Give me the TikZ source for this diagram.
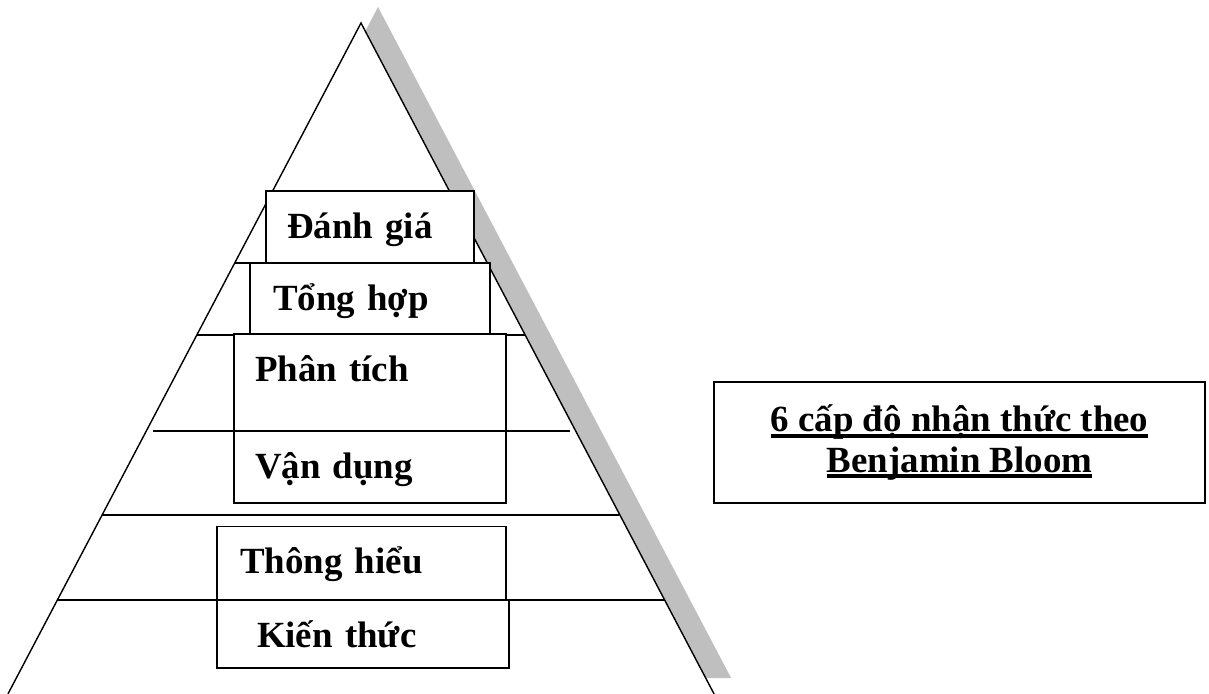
\documentclass[tikz,border=0pt]{standalone}
\usepackage{fontspec}
\setmainfont{Liberation Serif}
\newsavebox{\undlbox}
\newcommand{\undl}[1]{\sbox{\undlbox}{#1}\rlap{\rule[-3.2pt]{\wd\undlbox}{1.8pt}}\usebox{\undlbox}}
\tikzset{
  lvl/.style={draw, fill=white, line width=1pt, align=left, inner ysep=0pt,
    text height=0.94cm, font=\fontsize{21}{25}\selectfont\bfseries},
  edge/.style={line width=0.8pt},
}
\begin{document}
\begin{tikzpicture}[x=0.02cm, y=-0.02cm]
  \useasboundingbox (0,0) rectangle (1209,693);
  \coordinate (top) at (361,23);
  \coordinate (bl)  at (7.9,694);
  \coordinate (br)  at (714.1,694);

  % shadow, then the pyramid (no base line)
  \fill[black!25] ([shift={(17,-16)}]top) -- ([shift={(17,-16)}]bl) -- ([shift={(17,-16)}]br) -- cycle;
  \fill[white] (top) -- (bl) -- (br) -- cycle;
  \draw[edge] (bl) -- (top) -- (br);

  \draw[edge] (234.7,263) -- (487.3,263);
  \draw[edge] (197,335) -- (525,335);
  \draw[edge] (153,431) -- (570,431);
  \draw[edge] (102,515) -- (619,515);
  \draw[edge] (57.4,600) -- (664.6,600);

  \node[lvl, text width=3.32cm, inner xsep=0.42cm, text depth=0.5cm]  (l1) at (370,227)   {Đánh giá};
  \node[lvl, text width=3.88cm, inner xsep=0.46cm, text depth=0.48cm] (l2) at (370,298.5) {Tổng hợp};
  \node[lvl, text width=4.6cm,  inner xsep=0.42cm, text depth=1cm]    (l3) at (370,382.5) {Phân tích};
  \node[lvl, text width=4.6cm,  inner xsep=0.42cm, text depth=0.5cm]  (l4) at (370,467)   {Vận dụng};
  \node[lvl, text width=4.86cm, inner xsep=0.46cm, text depth=0.54cm] (l5) at (361.5,563.5) {Thông hiểu};
  \node[lvl, text width=4.24cm, inner xsep=0.8cm,  text depth=0.42cm] (l6) at (363,634)   {Kiến thức};

  \node[draw, line width=1pt, minimum width=9.82cm, minimum height=2.42cm, align=center,
    font=\fontsize{21}{22.8}\selectfont\bfseries] (t1) at (959.5,442.5)
    {\undl{6 cấp độ nhận thức theo}\\\undl{Benjamin Bloom}};
\end{tikzpicture}
\end{document}
